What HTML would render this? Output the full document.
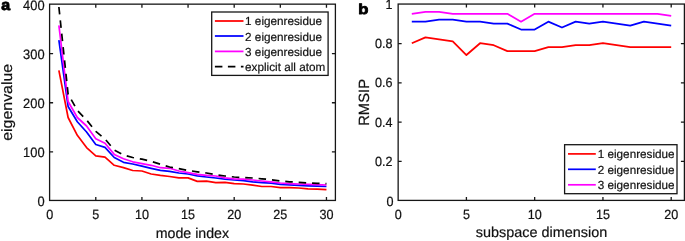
<!DOCTYPE html>
<html><head><meta charset="utf-8"><title>figure</title>
<style>html,body{margin:0;padding:0;background:#fff;}svg{display:block;}text{font-family:"Liberation Sans",sans-serif;fill:#111;stroke:#111;stroke-width:0.2px;text-rendering:geometricPrecision;}</style></head><body>
<svg width="685" height="241" viewBox="0 0 685 241">
<rect x="0" y="0" width="685" height="241" fill="#ffffff"/>
<g stroke="#161616" stroke-width="1.3" fill="none">
<rect x="49.6" y="4.15" width="285.79999999999995" height="196.29999999999998"/>
<path d="M95.78 200.45v-3.5M95.78 4.15v3.5"/>
<path d="M141.92 200.45v-3.5M141.92 4.15v3.5"/>
<path d="M188.06 200.45v-3.5M188.06 4.15v3.5"/>
<path d="M234.19 200.45v-3.5M234.19 4.15v3.5"/>
<path d="M280.32 200.45v-3.5M280.32 4.15v3.5"/>
<path d="M326.46 200.45v-3.5M326.46 4.15v3.5"/>
<path d="M49.6 151.82h3.5M335.4 151.82h-3.5"/>
<path d="M49.6 102.74h3.5M335.4 102.74h-3.5"/>
<path d="M49.6 53.66h3.5M335.4 53.66h-3.5"/>
</g>
<text transform="translate(49.65,218.9) scale(1,1.06)" font-size="12.6" text-anchor="middle">0</text>
<text transform="translate(95.78,218.9) scale(1,1.06)" font-size="12.6" text-anchor="middle">5</text>
<text transform="translate(141.92,218.9) scale(1,1.06)" font-size="12.6" text-anchor="middle">10</text>
<text transform="translate(188.06,218.9) scale(1,1.06)" font-size="12.6" text-anchor="middle">15</text>
<text transform="translate(234.19,218.9) scale(1,1.06)" font-size="12.6" text-anchor="middle">20</text>
<text transform="translate(280.32,218.9) scale(1,1.06)" font-size="12.6" text-anchor="middle">25</text>
<text transform="translate(326.46,218.9) scale(1,1.06)" font-size="12.6" text-anchor="middle">30</text>
<text transform="translate(44.6,206.40) scale(1,1.06)" font-size="12.9" text-anchor="end">0</text>
<text transform="translate(44.6,156.72) scale(1,1.06)" font-size="12.9" text-anchor="end">100</text>
<text transform="translate(44.6,107.64) scale(1,1.06)" font-size="12.9" text-anchor="end">200</text>
<text transform="translate(44.6,58.56) scale(1,1.06)" font-size="12.9" text-anchor="end">300</text>
<text transform="translate(44.6,9.50) scale(1,1.06)" font-size="12.9" text-anchor="end">400</text>
<text x="192.4" y="237.7" font-size="14.2" text-anchor="middle">mode index</text>
<text transform="translate(12.2,102.3) rotate(-90) scale(1.074,1)" font-size="14.8" text-anchor="middle">eigenvalue</text>
<text transform="translate(1.3,9.6) scale(1,0.95)" font-size="16" font-weight="bold" style="fill:#000;stroke:#000;stroke-width:0.9px;stroke-linejoin:round">a</text>
<g fill="none" stroke-width="1.7" stroke-linejoin="round">
<polyline stroke="#ff0000" points="58.88,70.40 68.10,117.50 77.33,135.30 86.56,147.60 95.78,155.80 105.01,157.20 114.24,165.30 123.47,167.60 132.69,170.50 141.92,171.00 151.15,174.00 160.37,175.40 169.60,176.50 178.83,177.90 188.06,177.90 197.28,181.40 206.51,181.20 215.74,182.70 224.96,182.30 234.19,183.60 243.42,184.00 252.64,185.20 261.87,186.50 271.10,186.50 280.32,187.60 289.55,187.60 298.78,188.00 308.01,188.80 317.23,189.10 326.46,189.70"/>
<polyline stroke="#0000ff" points="58.88,40.20 68.10,106.50 77.33,121.80 86.56,132.00 95.78,144.50 105.01,147.40 114.24,157.50 123.47,162.30 132.69,164.00 141.92,166.20 151.15,168.40 160.37,170.40 169.60,171.30 178.83,173.00 188.06,174.00 197.28,175.80 206.51,177.00 215.74,178.00 224.96,179.20 234.19,180.00 243.42,180.60 252.64,181.80 261.87,182.60 271.10,183.20 280.32,184.40 289.55,184.80 298.78,185.30 308.01,185.80 317.23,186.20 326.46,186.50"/>
<polyline stroke="#ff00ff" points="58.88,25.30 68.10,101.50 77.33,117.50 86.56,126.00 95.78,138.80 105.01,143.20 114.24,154.40 123.47,158.80 132.69,161.80 141.92,163.60 151.15,165.30 160.37,167.70 169.60,168.30 178.83,171.00 188.06,172.70 197.28,174.40 206.51,175.30 215.74,176.00 224.96,177.80 234.19,178.80 243.42,179.20 252.64,180.00 261.87,181.00 271.10,181.80 280.32,183.00 289.55,183.60 298.78,184.00 308.01,184.40 317.23,184.70 326.46,185.00"/>
<polyline stroke="#000000" stroke-dasharray="7.5 5.92" points="58.88,7.00 68.10,94.00 77.33,110.50 86.56,120.00 95.78,131.40 105.01,139.00 114.24,150.00 123.47,154.90 132.69,157.50 141.92,159.20 151.15,161.30 160.37,164.20 169.60,167.00 178.83,168.70 188.06,170.40 197.28,171.80 206.51,173.00 215.74,174.80 224.96,176.00 234.19,177.00 243.42,177.50 252.64,178.00 261.87,178.80 271.10,179.70 280.32,181.00 289.55,181.80 298.78,182.30 308.01,183.00 317.23,183.30 326.46,183.60"/>
</g>
<rect x="211.7" y="12.0" width="116.4" height="63.4" fill="#fff" stroke="#161616" stroke-width="1.3"/>
<path d="M214.9 21.0H243.5" stroke="#ff0000" stroke-width="1.75" fill="none"/>
<text transform="translate(245.1,25.15) scale(1,1.0)" font-size="11.72">1 eigenresidue</text>
<path d="M214.9 36.0H243.5" stroke="#0000ff" stroke-width="1.75" fill="none"/>
<text transform="translate(245.1,40.9) scale(1,1.0)" font-size="11.72">2 eigenresidue</text>
<path d="M214.9 51.4H243.5" stroke="#ff00ff" stroke-width="1.75" fill="none"/>
<text transform="translate(245.1,55.85) scale(1,1.0)" font-size="11.72">3 eigenresidue</text>
<path d="M214.9 66.5H243.5" stroke="#000" stroke-width="1.75" stroke-dasharray="7.5 5.5" fill="none"/>
<text transform="translate(245.1,71.05) scale(1,1.0)" font-size="11.72">explicit all atom</text>
<g stroke="#161616" stroke-width="1.3" fill="none">
<rect x="398.15" y="4.05" width="286.25" height="196.35"/>
<path d="M466.41 200.4v-3.5M466.41 4.05v3.5"/>
<path d="M534.67 200.4v-3.5M534.67 4.05v3.5"/>
<path d="M602.94 200.4v-3.5M602.94 4.05v3.5"/>
<path d="M671.20 200.4v-3.5M671.20 4.05v3.5"/>
<path d="M398.15 161.31h3.5M684.4 161.31h-3.5"/>
<path d="M398.15 122.07h3.5M684.4 122.07h-3.5"/>
<path d="M398.15 82.83h3.5M684.4 82.83h-3.5"/>
<path d="M398.15 43.59h3.5M684.4 43.59h-3.5"/>
</g>
<text transform="translate(398.15,218.9) scale(1,1.06)" font-size="12.6" text-anchor="middle">0</text>
<text transform="translate(466.41,218.9) scale(1,1.06)" font-size="12.6" text-anchor="middle">5</text>
<text transform="translate(534.67,218.9) scale(1,1.06)" font-size="12.6" text-anchor="middle">10</text>
<text transform="translate(602.94,218.9) scale(1,1.06)" font-size="12.6" text-anchor="middle">15</text>
<text transform="translate(671.20,218.9) scale(1,1.06)" font-size="12.6" text-anchor="middle">20</text>
<text transform="translate(393.5,205.90) scale(1,1.06)" font-size="12.6" text-anchor="end">0</text>
<text transform="translate(392.6,165.86) scale(1,1.06)" font-size="12.6" text-anchor="end">0.2</text>
<text transform="translate(392.6,126.62) scale(1,1.06)" font-size="12.6" text-anchor="end">0.4</text>
<text transform="translate(392.6,87.38) scale(1,1.06)" font-size="12.6" text-anchor="end">0.6</text>
<text transform="translate(392.6,48.14) scale(1,1.06)" font-size="12.6" text-anchor="end">0.8</text>
<text transform="translate(392.6,9.30) scale(1,1.06)" font-size="12.6" text-anchor="end">1</text>
<text x="541.5" y="237.2" font-size="14.42" text-anchor="middle">subspace dimension</text>
<text transform="translate(368.9,102.4) rotate(-90)" font-size="14.8" text-anchor="middle">RMSIP</text>
<text transform="translate(358.3,13.6) scale(1.04,0.9)" font-size="16" font-weight="bold" style="fill:#000;stroke:#000;stroke-width:0.9px;stroke-linejoin:round">b</text>
<g fill="none" stroke-width="1.75" stroke-linejoin="round">
<polyline stroke="#ff0000" points="411.80,43.24 425.45,37.35 439.11,39.32 452.76,41.28 466.41,55.01 480.06,43.24 493.72,45.20 507.37,51.09 521.02,51.09 534.67,51.09 548.33,47.16 561.98,47.16 575.63,45.20 589.28,45.20 602.94,43.24 616.59,45.20 630.24,47.16 643.89,47.16 657.55,47.16 671.20,47.16"/>
<polyline stroke="#0000ff" points="411.80,21.66 425.45,21.66 439.11,19.70 452.76,19.70 466.41,21.66 480.06,21.66 493.72,23.62 507.37,23.62 521.02,29.51 534.67,29.51 548.33,21.66 561.98,27.54 575.63,21.66 589.28,23.62 602.94,21.66 616.59,23.62 630.24,25.58 643.89,21.66 657.55,23.62 671.20,25.58"/>
<polyline stroke="#ff00ff" points="411.80,13.81 425.45,11.85 439.11,11.85 452.76,13.81 466.41,13.81 480.06,13.81 493.72,13.81 507.37,13.81 521.02,21.66 534.67,13.81 548.33,13.81 561.98,13.81 575.63,13.81 589.28,13.81 602.94,13.81 616.59,13.81 630.24,13.81 643.89,13.81 657.55,13.81 671.20,15.77"/>
</g>
<rect x="564.6" y="144.7" width="112.4" height="49.0" fill="#fff" stroke="#161616" stroke-width="1.3"/>
<path d="M568 153.9H595.8" stroke="#ff0000" stroke-width="1.7" fill="none"/>
<text transform="translate(597.7,158.3) scale(1,1.0)" font-size="11.72">1 eigenresidue</text>
<path d="M568 169.3H595.8" stroke="#0000ff" stroke-width="1.7" fill="none"/>
<text transform="translate(597.7,173.70000000000002) scale(1,1.0)" font-size="11.72">2 eigenresidue</text>
<path d="M568 184.8H595.8" stroke="#ff00ff" stroke-width="1.7" fill="none"/>
<text transform="translate(597.7,189.20000000000002) scale(1,1.0)" font-size="11.72">3 eigenresidue</text>
</svg></body></html>
